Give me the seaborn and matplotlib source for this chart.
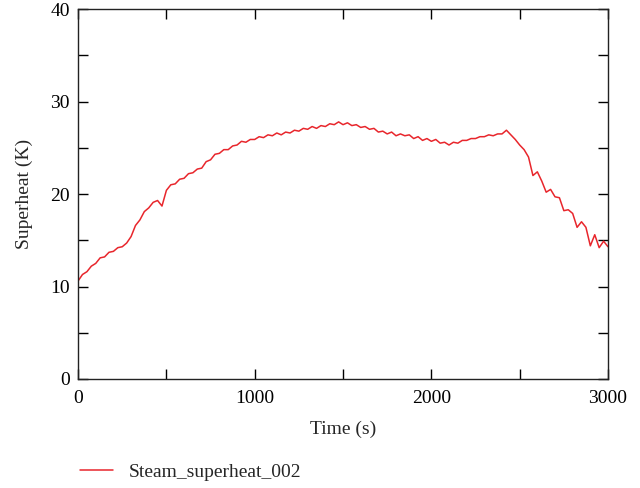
import numpy as np
import pandas as pd
import matplotlib
matplotlib.use('Agg')
import matplotlib.pyplot as plt
from matplotlib.ticker import MultipleLocator
import seaborn as sns

# time axis, one reading every 25 s
time_s = list(range(0, 3001, 25))

# superheat values (K)
superheat_k = [
    10.6, 11.3, 11.6, 12.2, 12.5, 13.1, 13.2, 13.7, 13.8, 14.2, 14.3, 14.7,
    15.4, 16.6, 17.2, 18.1, 18.5, 19.1, 19.3, 18.7, 20.4, 21.0, 21.1, 21.6,
    21.7, 22.2, 22.3, 22.7, 22.8, 23.5, 23.7, 24.3, 24.4, 24.8, 24.8, 25.2,
    25.3, 25.7, 25.6, 25.9, 25.9, 26.2, 26.1, 26.4, 26.3, 26.6, 26.4, 26.7,
    26.6, 26.9, 26.8, 27.1, 27.0, 27.3, 27.1, 27.4, 27.3, 27.6, 27.5, 27.8,
    27.5, 27.7, 27.4, 27.5, 27.2, 27.3, 27.0, 27.1, 26.7, 26.8, 26.5, 26.7,
    26.3, 26.5, 26.3, 26.4, 26.0, 26.2, 25.8, 26.0, 25.7, 25.9, 25.5, 25.6,
    25.3, 25.6, 25.5, 25.8, 25.8, 26.0, 26.0, 26.2, 26.2, 26.4, 26.3, 26.5,
    26.5, 26.9, 26.4, 25.9, 25.3, 24.8, 24.0, 22.0, 22.4, 21.4, 20.2, 20.5,
    19.7, 19.6, 18.2, 18.3, 17.9, 16.4, 17.0, 16.4, 14.4, 15.6, 14.2, 14.9,
    14.3,
]

series_label = 'Steam_superheat_002'

df = pd.DataFrame({'Time': time_s, 'Superheat': superheat_k})

sns.set_style('ticks')
plt.rcParams['font.family'] = ['Liberation Serif', 'DejaVu Serif']
plt.rcParams['font.size'] = 14

fig = plt.figure(figsize=(6.4, 4.88), dpi=100)
ax = fig.add_axes([0.122, 0.2234, 0.828, 0.758])

sns.lineplot(data=df, x='Time', y='Superheat', ax=ax, color='#e8262c',
             linewidth=1.1, label=series_label, legend=False)

ax.set_xlim(0, 3000)
ax.set_ylim(0, 40)
ax.xaxis.set_major_locator(MultipleLocator(1000))
ax.xaxis.set_minor_locator(MultipleLocator(500))
ax.yaxis.set_major_locator(MultipleLocator(10))
ax.yaxis.set_minor_locator(MultipleLocator(5))
ax.tick_params(which='both', direction='in', length=7, width=1.0,
               top=True, right=True, labelsize=14, colors='black')
ax.tick_params(axis='x', pad=8)
ax.tick_params(axis='y', pad=6)
for s in ax.spines.values():
    s.set_linewidth(1.0)
    s.set_color('#222222')

ax.set_xlabel('Time (s)', fontsize=14, labelpad=10)
ax.set_ylabel('Superheat (K)', fontsize=14, labelpad=12)

h, l = ax.get_legend_handles_labels()
fig.legend(h, l, loc='center left', bbox_to_anchor=(0.125, 0.033),
           frameon=False, fontsize=14, handlelength=1.7, handletextpad=0.8,
           borderpad=0, borderaxespad=0)

fig.savefig('out.png', dpi=100)
